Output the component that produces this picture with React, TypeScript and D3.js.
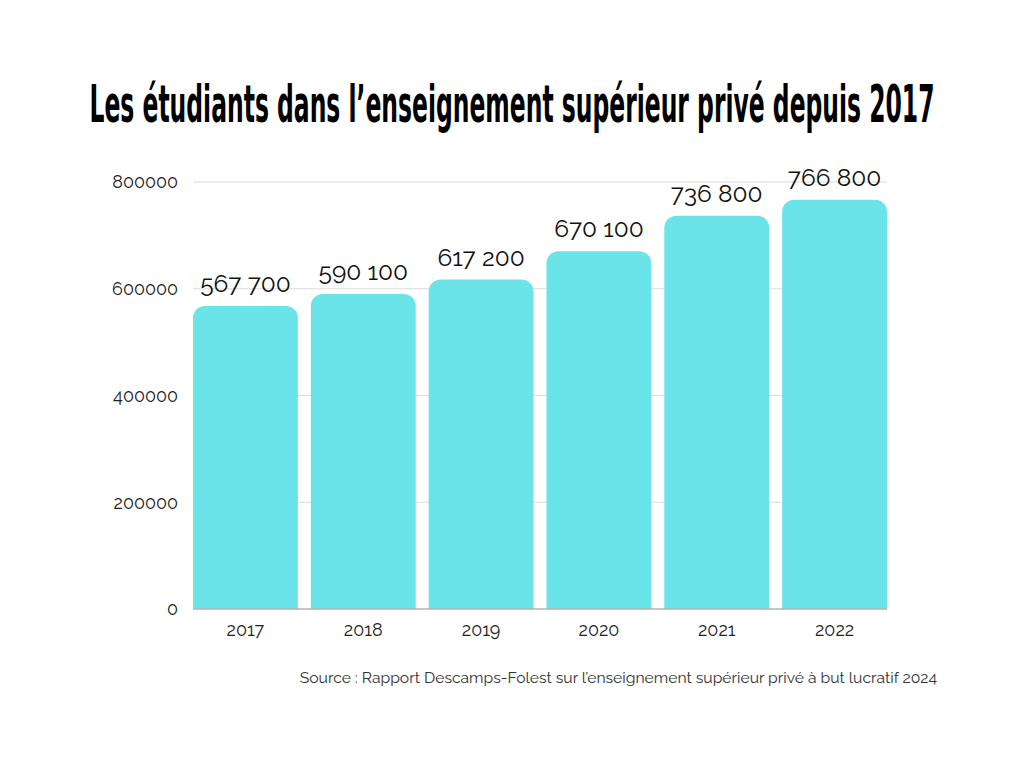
import React from "react";
import * as d3 from "d3";

const years = ["2017", "2018", "2019", "2020", "2021", "2022"];
const students = [567700, 590100, 617200, 670100, 736800, 766800];
const valueLabels = ["567 700", "590 100", "617 200", "670 100", "736 800", "766 800"];
const yTicks = [0, 200000, 400000, 600000, 800000];
const title = "Les étudiants dans l’enseignement supérieur privé depuis 2017";
const source = "Source : Rapport Descamps-Folest sur l’enseignement supérieur privé à but lucratif 2024";

const W = 1024;
const H = 768;
const left = 193;
const right = 887;
const top = 182;
const bottom = 609;

export default function App() {
  const x = d3.scaleBand<string>().domain(years).range([left, right]).paddingInner(0.11).paddingOuter(0);
  const y = d3.scaleLinear().domain([0, 800000]).range([bottom, top]);
  const r = 12;
  const barPath = (i: number) => {
    const x0 = x(years[i])!;
    const w = x.bandwidth();
    const yt = y(students[i]);
    const p = d3.path();
    p.moveTo(x0, bottom);
    p.lineTo(x0, yt + r);
    p.arcTo(x0, yt, x0 + r, yt, r);
    p.lineTo(x0 + w - r, yt);
    p.arcTo(x0 + w, yt, x0 + w, yt + r, r);
    p.lineTo(x0 + w, bottom);
    p.closePath();
    return p.toString();
  };
  const font = "Raleway, Lato, 'Open Sans', sans-serif";
  return (
    <svg width={W} height={H} style={{ position: "absolute", left: 0, top: 0, background: "#fff" }}>
      <rect width={W} height={H} fill="#fff" />
      <g transform={`translate(${W / 2},122) scale(1,2.04)`}>
        <text
          x={0}
          y={0}
          textAnchor="middle"
          fontFamily="'DejaVu Sans Condensed', 'Liberation Sans Narrow', sans-serif"
          fontWeight="bold"
          fontSize={25}
          textLength={845}
          lengthAdjust="spacingAndGlyphs"
          fill="#000"
        >
          {title}
        </text>
      </g>
      {yTicks.map((t) => (
        <g key={t}>
          {t > 0 && <line x1={left} x2={right} y1={y(t)} y2={y(t)} stroke="#dcdcdc" strokeWidth={1.2} />}
          <text x={178} y={y(t)} dy="0.35em" textAnchor="end" fontFamily={font} fontSize={18} fill="#222">
            {t}
          </text>
        </g>
      ))}
      {years.map((yr, i) => (
        <path key={yr} d={barPath(i)} fill="#6ae4e8" />
      ))}
      <line x1={left} x2={right} y1={bottom} y2={bottom} stroke="#b3b3b3" strokeWidth={1.5} />
      {years.map((yr, i) => (
        <text
          key={"l" + yr}
          x={x(yr)! + x.bandwidth() / 2}
          y={y(students[i]) - 14}
          textAnchor="middle"
          fontFamily={font}
          fontSize={24.5}
          fill="#111"
        >
          {valueLabels[i]}
        </text>
      ))}
      {years.map((yr) => (
        <text
          key={"x" + yr}
          x={x(yr)! + x.bandwidth() / 2}
          y={636}
          textAnchor="middle"
          fontFamily={font}
          fontSize={18}
          fill="#222"
        >
          {yr}
        </text>
      ))}
      <text x={937} y={683} textAnchor="end" fontFamily={font} fontSize={15.7} fill="#333">
        {source}
      </text>
    </svg>
  );
}
